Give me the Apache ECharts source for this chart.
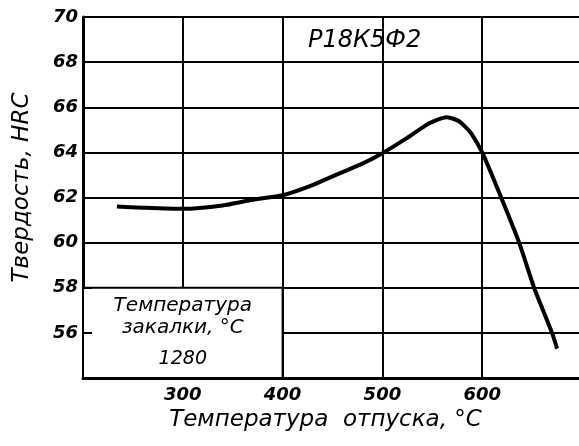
<!DOCTYPE html>
<html>
<head>
<meta charset="utf-8">
<script src="https://cdn.jsdelivr.net/npm/echarts@6/dist/echarts.min.js"></script>
<style>
  html, body { margin: 0; padding: 0; background: #fff; }
  #chart { width: 579px; height: 446px; }
</style>
</head>
<body>
<div id="chart"></div>
<script>
// температура отпуска, °C
const temper = [234, 260, 300, 340, 370, 400, 430, 457, 480, 500, 524, 547, 564, 576, 588, 600, 619, 637, 652, 670, 675]
// твердость, HRC
const hardness = [61.6, 61.55, 61.5, 61.65, 61.9, 62.1, 62.55, 63.07, 63.5, 63.96, 64.62, 65.29, 65.56, 65.4, 64.9, 64.0, 62.0, 60.0, 58.0, 56.0, 55.3]
const xTicks = [300, 400, 500, 600]
const yTicks = [56, 58, 60, 62, 64, 66, 68, 70]
// box with quenching temperature
const boxX = [200, 400]
const boxY = [54, 58]

const ink = '#000'
const font = 'DejaVu Sans'

const chart = echarts.init(document.getElementById('chart'))

chart.setOption({
  backgroundColor: '#fff',
  animation: false,
  title: {
    text: 'Р18К5Ф2',
    left: 303,
    top: 24,
    textStyle: {
      fontFamily: font,
      fontStyle: 'italic',
      fontWeight: 'normal',
      fontSize: 24,
      color: ink
    }
  },
  grid: {
    left: 83,
    top: 17,
    right: -3,
    bottom: 68,
    containLabel: false,
    outerBoundsMode: 'none'
  },
  xAxis: {
    type: 'value',
    min: 200,
    max: 700,
    interval: 100,
    name: 'Температура  отпуска, °С',
    nameLocation: 'middle',
    nameGap: 30,
    nameTextStyle: {
      fontFamily: font,
      fontStyle: 'italic',
      fontSize: 23,
      color: ink,
      padding: [0, 14, 0, 0]
    },
    axisLine: {
      lineStyle: { color: ink, width: 3 }
    },
    axisTick: { show: false },
    axisLabel: {
      margin: 8,
      fontFamily: font,
      fontStyle: 'italic',
      fontWeight: 'bold',
      fontSize: 18,
      color: ink,
      formatter: function (v) {
        return xTicks.indexOf(v) >= 0 ? String(v) : ''
      }
    },
    splitLine: {
      lineStyle: { color: ink, width: 2 }
    }
  },
  yAxis: [{
    type: 'value',
    min: 54,
    max: 70,
    interval: 2,
    name: 'Твердость, HRC',
    nameLocation: 'middle',
    nameGap: 49,
    nameRotate: 90,
    nameTextStyle: {
      fontFamily: font,
      fontStyle: 'italic',
      fontSize: 23,
      color: ink,
      padding: [0, 0, 0, 20]
    },
    axisLine: {
      show: true,
      lineStyle: { color: ink, width: 3 }
    },
    axisTick: { show: false },
    axisLabel: {
      margin: 5,
      fontFamily: font,
      fontStyle: 'italic',
      fontWeight: 'bold',
      fontSize: 18,
      color: ink,
      formatter: function (v) {
        return yTicks.indexOf(v) >= 0 ? String(v) : ''
      }
    },
    splitLine: {
      lineStyle: { color: ink, width: 2 }
    }
  }, {
    // only the inner ticks, drawn over the box
    type: 'value',
    position: 'left',
    min: 54,
    max: 70,
    interval: 2,
    z: 10,
    axisLine: { show: false },
    axisTick: {
      show: true,
      inside: true,
      length: 9,
      lineStyle: { color: ink, width: 2 }
    },
    axisLabel: { show: false },
    splitLine: { show: false }
  }],
  series: [{
    type: 'line',
    data: temper.map((t, i) => [t, hardness[i]]),
    smooth: 0.2,
    symbol: 'none',
    lineStyle: { color: ink, width: 4 },
    z: 5,
    markArea: {
      silent: true,
      itemStyle: {
        color: '#fff',
        borderColor: ink,
        borderWidth: 2
      },
      label: {
        show: true,
        position: 'insideTop',
        distance: 8,
        formatter: '{a|Температура}\n{a|закалки, °С}\n{b|1280}',
        rich: {
          a: {
            fontFamily: font,
            fontStyle: 'italic',
            fontSize: 20,
            lineHeight: 22,
            color: ink
          },
          b: {
            fontFamily: font,
            fontStyle: 'italic',
            fontSize: 19,
            lineHeight: 40,
            color: ink
          }
        }
      },
      data: [[
        { coord: [boxX[0], boxY[1]] },
        { coord: [boxX[1], boxY[0]] }
      ]]
    }
  }]
})
</script>
</body>
</html>
